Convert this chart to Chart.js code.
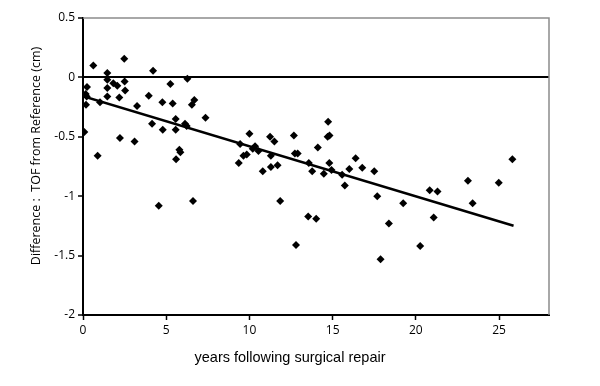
<!DOCTYPE html>
<html>
<head>
<meta charset="utf-8">
<script src="https://cdn.jsdelivr.net/npm/chart.js@4"></script>
<style>
  html, body { margin: 0; padding: 0; background: #fff; }
  #wrap { width: 600px; height: 386px; }
</style>
</head>
<body>
<div id="wrap"><canvas id="tof-chart" width="600" height="386"></canvas></div>
<script>
// years after repair / TOF difference (cm)
const years = [
    0.08, 0.16, 0.18, 0.22, 0.24, 0.62, 0.88, 1.02, 1.46, 1.46,
    1.46, 1.46, 1.82, 2.06, 2.18, 2.22, 2.48, 2.5, 2.53, 3.1,
    3.25, 3.95, 4.15, 4.21, 4.55, 4.77, 4.79, 5.25, 5.39, 5.57,
    5.57, 5.59, 5.79, 5.85, 6.13, 6.23, 6.27, 6.54, 6.61, 6.69,
    7.36, 9.36, 9.44, 9.64, 9.84, 10.0, 10.2, 10.34, 10.54, 10.8,
    11.24, 11.29, 11.29, 11.5, 11.69, 11.85, 12.67, 12.73, 12.8, 12.9,
    13.53, 13.57, 13.77, 14.01, 14.11, 14.47, 14.73, 14.7, 14.81, 14.8,
    14.93, 15.57, 15.73, 16.0, 16.38, 16.78, 17.5, 17.68, 17.88, 18.38,
    19.24, 20.26, 20.83, 21.07, 21.3, 23.13, 23.41, 24.98, 25.8
];
const diffs = [
    -0.46, -0.14, -0.23, -0.16, -0.08, 0.10, -0.66, -0.21, 0.038, -0.02,
    -0.09, -0.16, -0.05, -0.07, -0.17, -0.51, 0.156, -0.035, -0.11, -0.54,
    -0.24, -0.155, -0.39, 0.055, -1.08, -0.21, -0.44, -0.055, -0.22, -0.35,
    -0.44, -0.69, -0.61, -0.63, -0.39, -0.41, -0.012, -0.23, -1.04, -0.19,
    -0.34, -0.72, -0.56, -0.66, -0.65, -0.475, -0.60, -0.58, -0.62, -0.79,
    -0.50, -0.66, -0.755, -0.54, -0.74, -1.04, -0.49, -0.64, -1.41, -0.64,
    -1.17, -0.72, -0.79, -1.19, -0.59, -0.81, -0.374, -0.50, -0.49, -0.72,
    -0.78, -0.82, -0.91, -0.77, -0.68, -0.76, -0.79, -1.0, -1.53, -1.23,
    -1.06, -1.42, -0.95, -1.18, -0.96, -0.87, -1.06, -0.887, -0.69
];

// fitted trend line end points
const trendYears = [0, 25.87];
const trendDiffs = [-0.158, -1.249];

const xTicks = [0, 5, 10, 15, 20, 25];
const yTicks = [0.5, 0, -0.5, -1, -1.5, -2];

const points = years.map((x, i) => ({ x: x, y: diffs[i] }));
const trend = trendYears.map((x, i) => ({ x: x, y: trendDiffs[i] }));

// gray frame on top/right + axis titles
const framePlugin = {
    id: 'frame',
    beforeDatasetsDraw(chart) {
        const { ctx, chartArea: a } = chart;
        ctx.save();
        ctx.strokeStyle = '#8c8c8c';
        ctx.lineWidth = 1.5;
        ctx.beginPath();
        ctx.moveTo(a.left, a.top);
        ctx.lineTo(a.right, a.top);
        ctx.lineTo(a.right, a.bottom);
        ctx.stroke();
        ctx.restore();
    },
    afterDraw(chart) {
        const ctx = chart.ctx;
        ctx.save();
        ctx.fillStyle = '#000';
        ctx.textAlign = 'center';
        ctx.textBaseline = 'middle';
        ctx.font = '14.5px "Liberation Sans", Arial, sans-serif';
        ctx.fillText('years following surgical repair', 290, 358);
        ctx.translate(36, 156);
        ctx.rotate(-Math.PI / 2);
        ctx.font = '12.5px "Open Sans", sans-serif';
        ctx.fillText('Difference :  TOF from Reference (cm)', 0, 0);
        ctx.restore();
    }
};

const ctx = document.getElementById('tof-chart').getContext('2d');
new Chart(ctx, {
    type: 'scatter',
    data: {
        datasets: [{
            label: 'TOF difference',
            data: points,
            pointStyle: 'rectRot',
            pointRadius: 4,
            pointBorderWidth: 0,
            backgroundColor: '#000',
            borderColor: '#000'
        }, {
            label: 'trend',
            data: trend,
            showLine: true,
            pointRadius: 0,
            borderColor: '#000',
            borderWidth: 2.5
        }]
    },
    plugins: [framePlugin],
    options: {
        responsive: false,
        animation: false,
        layout: { padding: { top: 18, right: 51, left: 0, bottom: 0 } },
        plugins: {
            legend: { display: false },
            tooltip: { enabled: false }
        },
        scales: {
            x: {
                type: 'linear',
                min: 0,
                max: 28,
                afterBuildTicks: s => { s.ticks = xTicks.map(v => ({ value: v })); },
                afterFit: s => { s.height = 71; },
                border: { display: true, color: '#000', width: 2 },
                grid: { drawOnChartArea: false, drawTicks: true, tickLength: 5, tickColor: '#000', tickWidth: 1.5 },
                ticks: {
                    color: '#000',
                    padding: 3,
                    font: { family: '"Open Sans", sans-serif', size: 12 },
                    callback: v => String(v)
                }
            },
            y: {
                type: 'linear',
                min: -2,
                max: 0.5,
                afterBuildTicks: s => { s.ticks = yTicks.map(v => ({ value: v })); },
                afterFit: s => { s.width = 83; },
                border: { display: true, color: '#000', width: 2 },
                grid: {
                    color: c => (c.tick && c.tick.value === 0) ? '#000' : 'rgba(0,0,0,0)',
                    lineWidth: 2,
                    drawTicks: true,
                    tickLength: 5,
                    tickColor: '#000',
                    tickWidth: 1.5
                },
                ticks: {
                    color: '#000',
                    padding: 3,
                    font: { family: '"Open Sans", sans-serif', size: 12 },
                    callback: v => String(v)
                }
            }
        }
    }
});
</script>
</body>
</html>
